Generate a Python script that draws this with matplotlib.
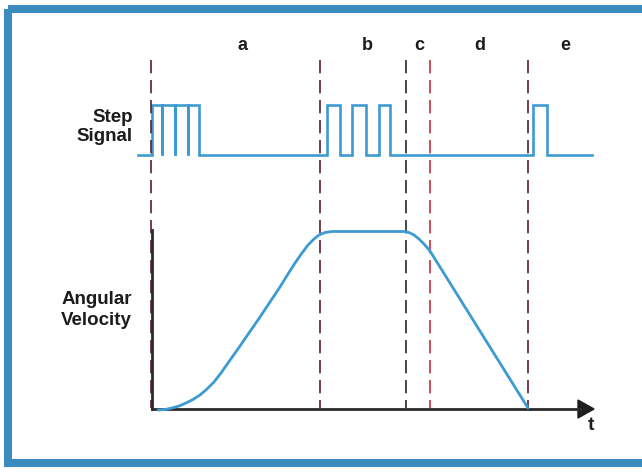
import matplotlib.pyplot as plt
from matplotlib.patches import Rectangle, Polygon

# diagram coordinates are in image pixels (x right, y down)
phase_names = ["a", "b", "c", "d", "e"]
phase_label_x = [243, 367, 419, 480, 565]
phase_bounds = [151, 320, 406, 430, 528]
bound_colors = ["#5b1f2c", "#5b1f2c", "#1f2a28", "#c03040", "#5b1f2c"]

# step signal: baseline and pulse edges (rise, fall)
sig_low, sig_high = 155, 105
sig_start, sig_end = 138, 592
burst_a = [152, 162, 175, 188, 199]        # pulses with no low gap
pulses_b = [(327, 340), (352, 366), (379, 390)]
pulses_e = [(533, 547)]

# angular velocity profile
vel_t = [158, 165, 172, 179, 186, 193, 200, 207, 214, 221, 228, 240, 260, 280,
         288, 295, 302, 308, 314, 319, 325, 332,
         404, 409, 414, 419, 424, 430, 528]
vel_y = [410, 409.5, 408, 406, 403, 399.5, 395, 389, 382, 373, 363, 346, 317, 287,
         274, 263, 253, 245, 239, 235, 232.5, 231.5,
         231.5, 232.5, 235, 239, 244, 251, 408]

fig = plt.figure(figsize=(6.42, 4.72), dpi=100)
ax = fig.add_axes([0, 0, 1, 1])
ax.set_xlim(0, 642)
ax.set_ylim(472, 0)
ax.axis("off")

blue = "#3d9bd2"
frame = "#3a8cbf"
ax.add_patch(Rectangle((8, 9), 636, 454, fill=False, edgecolor=frame, lw=5.8))

# step signal
xs = [sig_start, burst_a[0]]
ys = [sig_low, sig_low]
xs += [burst_a[0]]
ys += [sig_high]
for x in burst_a[1:-1]:
    xs += [x, x, x]
    ys += [sig_high, sig_low, sig_high]
xs += [burst_a[-1], burst_a[-1]]
ys += [sig_high, sig_low]
for r, f in pulses_b + pulses_e:
    xs += [r, r, f, f]
    ys += [sig_low, sig_high, sig_high, sig_low]
xs += [sig_end]
ys += [sig_low]
ax.plot(xs, ys, color=blue, lw=1.9, solid_joinstyle="miter")

# phase boundaries
for x, c in zip(phase_bounds, bound_colors):
    ax.plot([x, x], [60, 408], color=c, lw=1.2, dashes=(8, 4))

# axes of velocity plot
ax.plot([152, 152], [230, 409], color="#2b2b2b", lw=2.0)
ax.plot([152, 580], [409, 409], color="#2b2b2b", lw=2.0)
ax.add_patch(Polygon([(578, 400), (578, 418), (594, 409)], closed=True, color="#1e1e1e"))
ax.plot(vel_t, vel_y, color=blue, lw=2.0, solid_capstyle="round", solid_joinstyle="round")

font = dict(family="Liberation Sans", weight="bold", color="#1c1c1c")
for name, x in zip(phase_names, phase_label_x):
    ax.text(x, 46, name, ha="center", va="center", fontsize=13, **font)
ax.text(133, 127, "Step\nSignal", ha="right", va="center", fontsize=13.5,
        linespacing=1.2, multialignment="right", **font)
ax.text(132, 310, "Angular\nVelocity", ha="right", va="center", fontsize=13.5,
        linespacing=1.38, multialignment="left", **font)
ax.text(591, 426, "t", ha="center", va="center", fontsize=14, **font)

fig.savefig("out.png", dpi=100)
